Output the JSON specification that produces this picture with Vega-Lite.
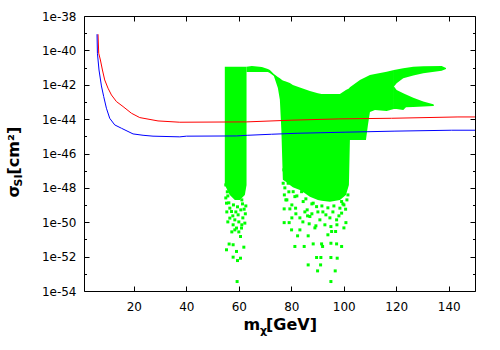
{
  "$schema": "https://vega.github.io/schema/vega-lite/v6.json",
  "width": 391,
  "height": 275,
  "autosize": {"type": "none"},
  "padding": {"left": 84, "top": 16, "right": 25, "bottom": 59},
  "background": "white",
  "config": {
    "view": {"stroke": "#000000", "strokeWidth": 1},
    "axis": {"tickColor": "#000000", "tickWidth": 1, "labelColor": "#000000", "titleColor": "#000000", "labelFont": "DejaVu Sans", "titleFont": "DejaVu Sans", "labelFontSize": 12, "grid": false, "domain": false, "titlePadding": 0}
  },
  "datasets": {
    "red": [
      {"m": 6.34, "s": 8.7e-40}, {"m": 6.61, "s": 6.8e-41}, {"m": 7.25, "s": 2.75e-41}, {"m": 8.02, "s": 7.2e-42},
      {"m": 8.89, "s": 1.9e-42}, {"m": 10.15, "s": 6.3e-43}, {"m": 11.45, "s": 2.55e-43}, {"m": 13.36, "s": 1.05e-43},
      {"m": 15.87, "s": 5.4e-44}, {"m": 19.08, "s": 2.2e-44}, {"m": 22.24, "s": 1.23e-44}, {"m": 29.2, "s": 7.85e-45},
      {"m": 37.5, "s": 6.6e-45}, {"m": 62.9, "s": 6.9e-45}, {"m": 80.2, "s": 8.7e-45}, {"m": 98.1, "s": 1.03e-44},
      {"m": 118.2, "s": 1.12e-44}, {"m": 143.5, "s": 1.34e-44}, {"m": 150, "s": 1.34e-44}
    ],
    "blue": [
      {"m": 5.96, "s": 8.7e-40}, {"m": 6.11, "s": 6.8e-41}, {"m": 6.72, "s": 7.2e-42}, {"m": 7.64, "s": 8.5e-43},
      {"m": 8.51, "s": 2.04e-43}, {"m": 9.54, "s": 4.3e-44}, {"m": 10.8, "s": 1.12e-44}, {"m": 12.71, "s": 4.6e-45},
      {"m": 15.26, "s": 2.95e-45}, {"m": 19.69, "s": 1.38e-45}, {"m": 23.5, "s": 1.15e-45}, {"m": 27.3, "s": 1.02e-45},
      {"m": 37.5, "s": 9.3e-46}, {"m": 40.05, "s": 1.02e-45}, {"m": 59.1, "s": 1.05e-45}, {"m": 63.4, "s": 1.15e-45},
      {"m": 72.5, "s": 1.32e-45}, {"m": 82.5, "s": 1.51e-45}, {"m": 100.8, "s": 1.74e-45}, {"m": 119.5, "s": 2.0e-45},
      {"m": 141.1, "s": 2.26e-45}, {"m": 150, "s": 2.26e-45}
    ],
    "band": [
      {"part": "A", "m": 54.66, "hi": 1.13e-41, "lo": 1.49e-48},
      {"part": "A", "m": 56.57, "hi": 1.13e-41, "lo": 3.9e-49},
      {"part": "A", "m": 58.47, "hi": 1.13e-41, "lo": 2.0e-49},
      {"part": "A", "m": 60.38, "hi": 1.13e-41, "lo": 2.0e-49},
      {"part": "A", "m": 62.29, "hi": 1.13e-41, "lo": 3.9e-49},
      {"part": "A", "m": 62.94, "hi": 1.13e-41, "lo": 1.49e-48},
      {"part": "B", "m": 62.94, "hi": 1.13e-41, "lo": 5.55e-42},
      {"part": "B", "m": 64.96, "hi": 1.24e-41, "lo": 5.55e-42},
      {"part": "B", "m": 68.77, "hi": 1.08e-41, "lo": 5.55e-42},
      {"part": "B", "m": 71.06, "hi": 8.3e-42, "lo": 5.55e-42},
      {"part": "B", "m": 71.82, "hi": 7.2e-42, "lo": 4.9e-42},
      {"part": "B", "m": 73.35, "hi": 4.26e-42, "lo": 3.25e-42},
      {"part": "B", "m": 74.88, "hi": 2.84e-42, "lo": 6.5e-43},
      {"part": "B", "m": 75.64, "hi": 2.4e-42, "lo": 1.32e-43},
      {"part": "B", "m": 76.21, "hi": 2.04e-42, "lo": 2.35e-45},
      {"part": "B", "m": 76.78, "hi": 1.78e-42, "lo": 2.95e-48},
      {"part": "B", "m": 78.19, "hi": 1.51e-42, "lo": 2.1e-48},
      {"part": "B", "m": 79.45, "hi": 1.27e-42, "lo": 1.49e-48},
      {"part": "B", "m": 80.59, "hi": 9.8e-43, "lo": 1.07e-48},
      {"part": "B", "m": 83.26, "hi": 7.0e-43, "lo": 7.6e-49},
      {"part": "B", "m": 85.17, "hi": 5.5e-43, "lo": 4.8e-49},
      {"part": "B", "m": 87.08, "hi": 4.4e-43, "lo": 3.0e-49},
      {"part": "B", "m": 90.13, "hi": 3.2e-43, "lo": 2.0e-49},
      {"part": "B", "m": 91.54, "hi": 2.9e-43, "lo": 1.8e-49},
      {"part": "B", "m": 94.71, "hi": 2.9e-43, "lo": 1.55e-49},
      {"part": "B", "m": 98.52, "hi": 2.9e-43, "lo": 2.0e-49},
      {"part": "B", "m": 100.81, "hi": 5.0e-43, "lo": 3.9e-49},
      {"part": "B", "m": 101.95, "hi": 6.1e-43, "lo": 1.49e-48},
      {"part": "B", "m": 102.33, "hi": 7.2e-43, "lo": 6.2e-46},
      {"part": "B", "m": 106.15, "hi": 1.9e-42, "lo": 6.2e-46},
      {"part": "B", "m": 108.44, "hi": 2.84e-42, "lo": 6.2e-46},
      {"part": "B", "m": 109.2, "hi": 3.25e-42, "lo": 4.6e-45},
      {"part": "B", "m": 109.97, "hi": 3.7e-42, "lo": 2.6e-44},
      {"part": "B", "m": 111.87, "hi": 4.26e-42, "lo": 3.4e-44},
      {"part": "B", "m": 116.33, "hi": 5.8e-42, "lo": 3.0e-44},
      {"part": "B", "m": 119.12, "hi": 7.2e-42, "lo": 3.9e-44},
      {"part": "C", "m": 119.12, "hi": 7.2e-42, "lo": 7.8e-43},
      {"part": "C", "m": 120.14, "hi": 7.7e-42, "lo": 1.23e-42},
      {"part": "C", "m": 122.66, "hi": 9.1e-42, "lo": 2.4e-42},
      {"part": "C", "m": 126.48, "hi": 1.13e-41, "lo": 3.4e-42},
      {"part": "C", "m": 130.29, "hi": 1.2e-41, "lo": 4.7e-42},
      {"part": "C", "m": 137.3, "hi": 1.24e-41, "lo": 6.6e-42},
      {"part": "C", "m": 138.95, "hi": 9.5e-42, "lo": 8.3e-42},
      {"part": "D", "m": 119.12, "hi": 7.8e-43, "lo": 3.9e-44},
      {"part": "D", "m": 120.14, "hi": 5.0e-43, "lo": 3.9e-44},
      {"part": "D", "m": 122.66, "hi": 3.2e-43, "lo": 3.4e-44},
      {"part": "D", "m": 123.7, "hi": 2.73e-43, "lo": 4.9e-44},
      {"part": "D", "m": 126.48, "hi": 1.78e-43, "lo": 5.1e-44},
      {"part": "D", "m": 130.29, "hi": 1.05e-43, "lo": 5.5e-44},
      {"part": "D", "m": 134.1, "hi": 7.4e-44, "lo": 5.9e-44},
      {"part": "D", "m": 134.37, "hi": 6.7e-44, "lo": 6.3e-44}
    ],
    "pts": [
      {"m": 55.31, "s": 1.29e-49}, {"m": 56.57, "s": 6.6e-50}, {"m": 57.22, "s": 4.2e-50}, {"m": 62.02, "s": 5.75e-50},
      {"m": 56.57, "s": 1.74e-50}, {"m": 59.73, "s": 2.7e-50}, {"m": 62.29, "s": 8.9e-51}, {"m": 57.83, "s": 7.1e-51},
      {"m": 59.12, "s": 4.6e-51}, {"m": 61.03, "s": 4.6e-51}, {"m": 60.65, "s": 1.48e-51}, {"m": 56.3, "s": 5.4e-52},
      {"m": 57.83, "s": 4.9e-52}, {"m": 55.31, "s": 2.5e-52}, {"m": 61.91, "s": 3.55e-52}, {"m": 59.12, "s": 2.0e-52},
      {"m": 57.83, "s": 9.3e-53}, {"m": 60.65, "s": 8.1e-53}, {"m": 59.5, "s": 5.9e-53}, {"m": 59.35, "s": 3.55e-54},
      {"m": 55.81, "s": 3.4e-49}, {"m": 61.14, "s": 2.0e-49}, {"m": 58.48, "s": 1.38e-50}, {"m": 61.53, "s": 1.8e-50},
      {"m": 55.42, "s": 4.0e-50}, {"m": 60.0, "s": 1.05e-50}, {"m": 57.33, "s": 2.75e-51}, {"m": 62.48, "s": 3.1e-50},
      {"m": 55.04, "s": 1.49e-48}, {"m": 55.61, "s": 5.9e-49},
      {"m": 55.04, "s": 2.6e-49}, {"m": 56.19, "s": 1.35e-49}, {"m": 57.95, "s": 1.02e-49}, {"m": 59.5, "s": 7.9e-50},
      {"m": 61.4, "s": 1.17e-49}, {"m": 62.67, "s": 8.9e-50}, {"m": 58.86, "s": 4.0e-50}, {"m": 60.76, "s": 5.25e-50},
      {"m": 57.71, "s": 2.35e-50}, {"m": 55.81, "s": 1.05e-50}, {"m": 61.14, "s": 7.1e-51}, {"m": 58.48, "s": 3.6e-51},
      {"m": 60.0, "s": 2.75e-51},
      {"m": 77.28, "s": 6.0e-50}, {"m": 79.45, "s": 6.0e-50}, {"m": 81.63, "s": 6.6e-50}, {"m": 77.28, "s": 9.5e-51},
      {"m": 79.18, "s": 9.5e-51}, {"m": 80.1, "s": 3.6e-51}, {"m": 83.27, "s": 3.6e-51}, {"m": 82.39, "s": 1.62e-51},
      {"m": 86.43, "s": 1.62e-51}, {"m": 81.36, "s": 3.9e-52}, {"m": 84.91, "s": 3.9e-52}, {"m": 88.34, "s": 5.5e-52},
      {"m": 91.54, "s": 5.5e-52}, {"m": 95.09, "s": 6.0e-52}, {"m": 97.26, "s": 5.5e-52}, {"m": 99.17, "s": 3.9e-52},
      {"m": 86.43, "s": 3.3e-53}, {"m": 89.63, "s": 8.9e-53}, {"m": 91.27, "s": 8.9e-53}, {"m": 95.09, "s": 8.9e-53},
      {"m": 97.49, "s": 8.1e-53}, {"m": 90.01, "s": 1.48e-53}, {"m": 96.73, "s": 1.48e-53}, {"m": 95.09, "s": 3.55e-54},
      {"m": 100.81, "s": 9.5e-51}, {"m": 100.69, "s": 5.75e-50}, {"m": 86.05, "s": 5.25e-50}, {"m": 86.2, "s": 2.35e-50},
      {"m": 84.52, "s": 1.6e-49}, {"m": 88.34, "s": 1.29e-49}, {"m": 95.36, "s": 2.9e-51}, {"m": 96.88, "s": 2.9e-51},
      {"m": 95.09, "s": 5.6e-51}, {"m": 98.52, "s": 6.6e-50}, {"m": 76.9, "s": 1.86e-48}, {"m": 78.8, "s": 1.86e-48},
      {"m": 80.71, "s": 6.0e-49}, {"m": 83.91, "s": 6.0e-49}, {"m": 81.36, "s": 3.1e-49}, {"m": 87.08, "s": 2.15e-50},
      {"m": 90.89, "s": 1.38e-50}, {"m": 97.26, "s": 1.38e-50}, {"m": 99.17, "s": 3.4e-50}, {"m": 89.63, "s": 8.1e-50},
      {"m": 99.17, "s": 1.6e-49}, {"m": 91.16, "s": 3.3e-53}, {"m": 91.92, "s": 3.9e-52}, {"m": 77.16, "s": 1.12e-47},
      {"m": 77.35, "s": 3.9e-49}, {"m": 77.93, "s": 2.0e-49}, {"m": 101.57, "s": 3.9e-49},
      {"m": 80.21, "s": 1.02e-49}, {"m": 85.17, "s": 4.0e-50}, {"m": 90.13, "s": 4.0e-50}, {"m": 93.18, "s": 2.7e-50},
      {"m": 95.85, "s": 4.0e-50}, {"m": 98.14, "s": 2.35e-50}, {"m": 100.05, "s": 1.02e-49}, {"m": 83.27, "s": 1.8e-50},
      {"m": 92.8, "s": 7.1e-51}, {"m": 88.99, "s": 4.7e-51}, {"m": 93.94, "s": 1.86e-51}, {"m": 84.41, "s": 1.05e-50},
      {"m": 77.54, "s": 1.0e-48}, {"m": 79.07, "s": 5.9e-49}, {"m": 82.12, "s": 3.4e-49}, {"m": 85.55, "s": 2.3e-49},
      {"m": 87.84, "s": 1.17e-49}, {"m": 91.65, "s": 8.9e-50}, {"m": 93.94, "s": 6.9e-50}, {"m": 96.23, "s": 8.9e-50},
      {"m": 99.67, "s": 1.17e-49}, {"m": 101.19, "s": 2.0e-49}, {"m": 78.31, "s": 2.0e-49}, {"m": 81.74, "s": 3.1e-50},
      {"m": 87.84, "s": 3.1e-50}, {"m": 92.03, "s": 4.0e-50}, {"m": 94.71, "s": 1.8e-50}, {"m": 97.38, "s": 7.1e-51},
      {"m": 89.37, "s": 6.2e-51}, {"m": 100.05, "s": 4.7e-51}, {"m": 80.21, "s": 1.8e-50}, {"m": 86.81, "s": 8.1e-51}
    ]
  },
  "resolve": {"axis": {"x": "independent", "y": "independent"}},
  "layer": [
    {
      "data": {"name": "band"},
      "mark": {"type": "area", "color": "#00ff00", "opacity": 1, "interpolate": "linear", "orient": "vertical", "clip": true},
      "encoding": {
        "x": {"field": "m", "type": "quantitative", "scale": {"domain": [1, 150], "nice": false, "zero": false},
          "axis": {"orient": "bottom", "values": [20, 40, 60, 80, 100, 120, 140], "tickSize": -5, "labelPadding": 15, "format": "d", "labelFlush": false, "labelOverlap": false,
            "title": "m", "titleX": 159, "titleY": 38, "titleAlign": "left", "titleBaseline": "alphabetic", "titleAngle": 0, "titleFontSize": 16, "titleFontWeight": "bold"}},
        "y": {"field": "hi", "type": "quantitative", "stack": null, "scale": {"type": "log", "domain": [1e-54, 1e-38], "nice": false},
          "axis": {"orient": "left", "values": [1e-54, 1e-52, 1e-50, 1e-48, 1e-46, 1e-44, 1e-42, 1e-40, 1e-38], "tickSize": -5, "labelPadding": 13,
            "labelExpr": "'1e' + round(log(datum.value) / LN10)", "labelFlush": false, "labelOverlap": false, "labelBound": false,
            "title": "σ", "titleX": -65.7, "titleY": 181, "titleAngle": 270, "titleAlign": "left", "titleBaseline": "alphabetic", "titleFontSize": 16, "titleFontWeight": "bold"}},
        "y2": {"field": "lo"},
        "detail": {"field": "part"}
      }
    },
    {
      "data": {"name": "pts"},
      "mark": {"type": "square", "size": 9, "color": "#00ff00", "opacity": 1, "filled": true, "clip": true},
      "encoding": {
        "x": {"field": "m", "type": "quantitative", "scale": {"domain": [1, 150], "nice": false, "zero": false},
          "axis": {"orient": "top", "values": [20, 40, 60, 80, 100, 120, 140], "tickSize": -5, "labels": false,
            "title": "χ", "titleX": 175.5, "titleY": 317, "titleAlign": "left", "titleBaseline": "alphabetic", "titleAngle": 0, "titleFontSize": 11, "titleFontWeight": "bold"}},
        "y": {"field": "s", "type": "quantitative", "scale": {"type": "log", "domain": [1e-54, 1e-38], "nice": false},
          "axis": {"orient": "right", "values": [1e-54, 1e-52, 1e-50, 1e-48, 1e-46, 1e-44, 1e-42, 1e-40, 1e-38], "tickSize": -5, "labels": false,
            "title": "SI", "titleX": -453.5, "titleY": 170, "titleAngle": 270, "titleAlign": "left", "titleBaseline": "alphabetic", "titleFontSize": 11, "titleFontWeight": "bold"}}
      }
    },
    {
      "data": {"name": "red"},
      "mark": {"type": "line", "color": "#ff0000", "strokeWidth": 1, "clip": true},
      "encoding": {
        "x": {"field": "m", "type": "quantitative", "scale": {"domain": [1, 150], "nice": false, "zero": false},
          "axis": {"orient": "bottom", "ticks": false, "labels": false,
            "title": "[GeV]", "titleX": 181.5, "titleY": 38, "titleAlign": "left", "titleBaseline": "alphabetic", "titleAngle": 0, "titleFontSize": 16, "titleFontWeight": "bold"}},
        "y": {"field": "s", "type": "quantitative", "scale": {"type": "log", "domain": [1e-54, 1e-38], "nice": false},
          "axis": {"orient": "left", "values": [1e-53, 1e-51, 1e-49, 1e-47, 1e-45, 1e-43, 1e-41, 1e-39], "tickSize": -2.5, "labels": false,
            "title": "[cm²]", "titleX": -65.7, "titleY": 158, "titleAngle": 270, "titleAlign": "left", "titleBaseline": "alphabetic", "titleFontSize": 16, "titleFontWeight": "bold"}}
      }
    },
    {
      "data": {"name": "blue"},
      "mark": {"type": "line", "color": "#0000ff", "strokeWidth": 1, "clip": true},
      "encoding": {
        "x": {"field": "m", "type": "quantitative", "scale": {"domain": [1, 150], "nice": false, "zero": false}, "axis": null},
        "y": {"field": "s", "type": "quantitative", "scale": {"type": "log", "domain": [1e-54, 1e-38], "nice": false},
          "axis": {"orient": "right", "values": [1e-53, 1e-51, 1e-49, 1e-47, 1e-45, 1e-43, 1e-41, 1e-39], "tickSize": -2.5, "labels": false, "title": null}}
      }
    }
  ]
}
